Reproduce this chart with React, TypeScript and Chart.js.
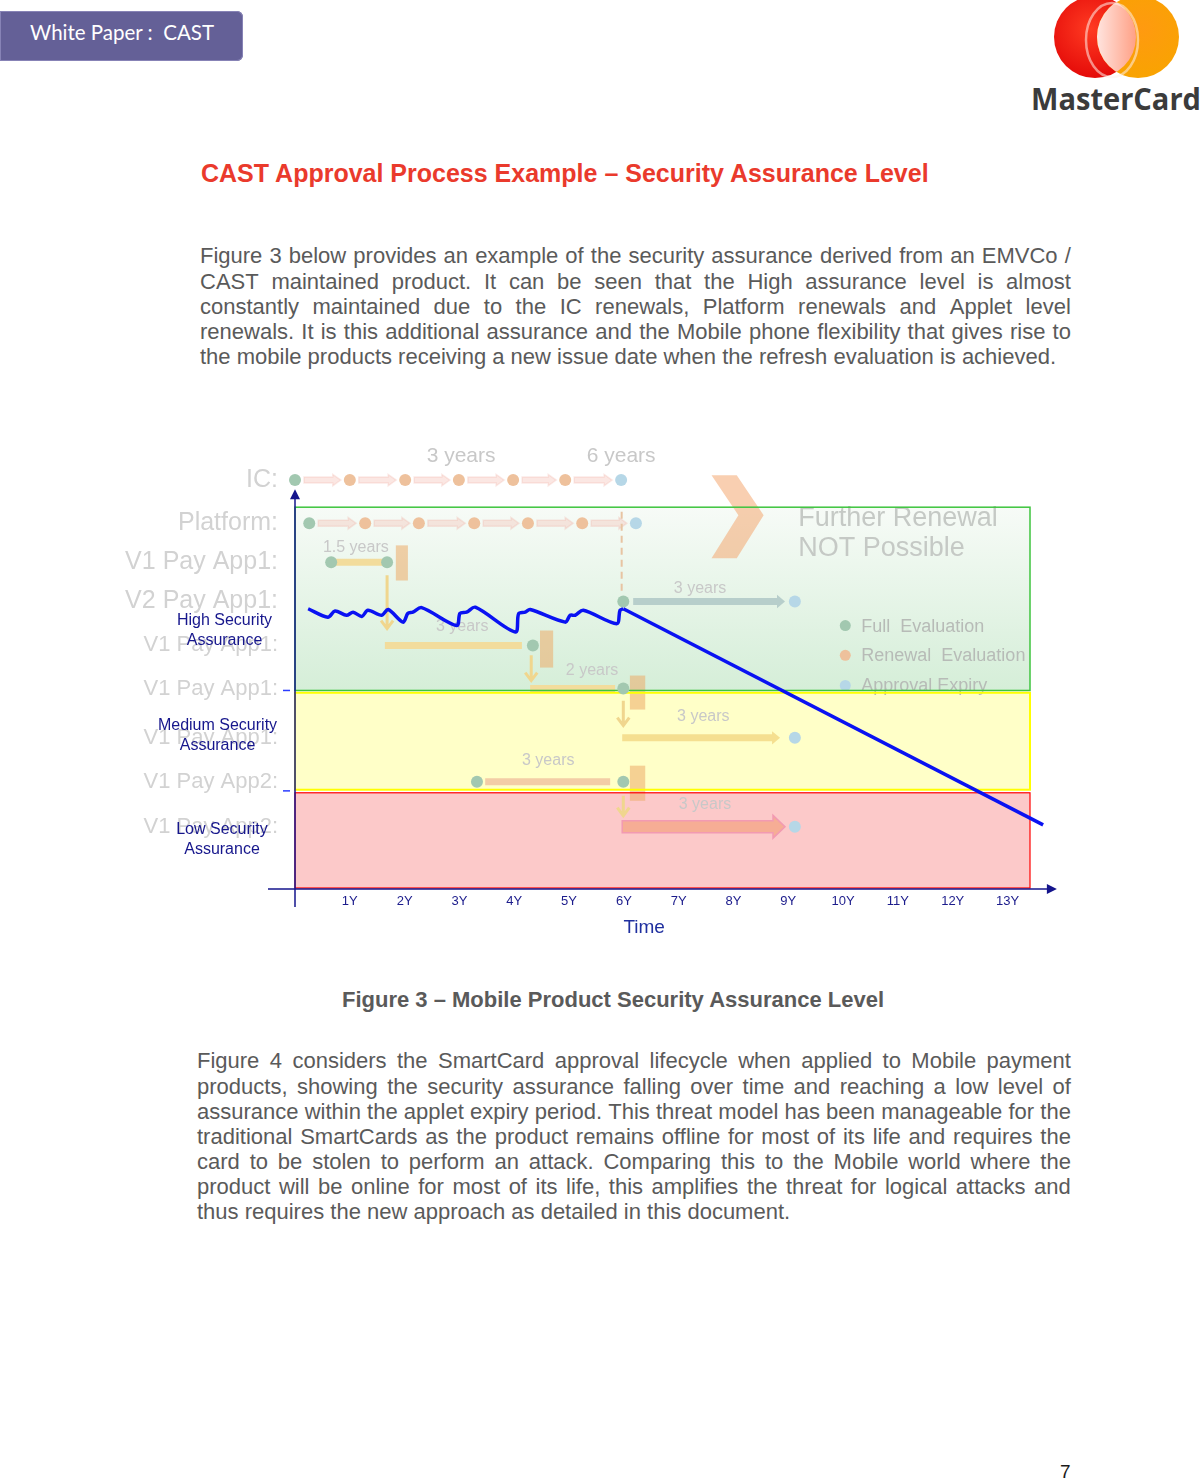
import React, { useEffect, useRef } from "react";
import { Chart, registerables } from "chart.js";

Chart.register(...registerables);

const FONT = '"Liberation Sans", Arial, Helvetica, sans-serif';

// ---------------- chart data ----------------
const yearTicks = [1, 2, 3, 4, 5, 6, 7, 8, 9, 10, 11, 12, 13];
const xMax = 13.41;
const yMax = 117.6;
const xArrowTip = 13.9;
const yArrowTip = 104.7;

const bandLabelLevels = [12.9, 40.2, 67.7];
const bandLabelText = [
  ["Low Security", "Assurance"],
  ["Medium Security", "Assurance"],
  ["High Security", "Assurance"],
];
const bandLows = [0.26, 26.0, 52.0];
const bandHighs = [25.2, 51.4, 100];
const bandEdgeTicks = [25.7, 52.0];

// security assurance curve (years, level)
const assuranceYears = [
  0.24, 0.6, 0.73, 0.94, 1.06, 1.22, 1.33, 1.58, 1.7, 1.97, 2.06, 2.15, 2.31, 2.95, 3.01, 3.13,
  3.29, 4.02, 4.08, 4.2, 4.29, 4.93, 5.02, 5.11, 5.26, 5.87, 5.93, 5.99,
];
const assuranceLevels = [
  73.4, 71.2, 72.8, 71.7, 72.5, 71.4, 73.0, 71.7, 73.2, 69.9, 72.2, 72.5, 73.7, 69.0, 72.2, 72.5,
  73.8, 67.3, 72.1, 72.5, 73.2, 69.9, 71.7, 71.7, 73.0, 69.5, 73.0, 73.4,
];
const declineYears = [5.99, 13.65];
const declineLevels = [73.4, 16.8];

// faded lifecycle diagram behind the chart
const rowNames = [
  "IC:",
  "Platform:",
  "V1 Pay App1:",
  "V2 Pay App1:",
  "V1 Pay App1:",
  "V1 Pay App1:",
  "V1 Pay App1:",
  "V1 Pay App2:",
  "V1 Pay App2:",
];
const rowLevels = [107.1, 95.8, 85.6, 75.3, 63.8, 52.5, 39.6, 28.1, 16.3];

const icYears = [0, 1.0, 2.01, 2.99, 3.98, 4.93, 5.95];
const platformYears = [0.26, 1.28, 2.26, 3.27, 4.25, 5.24, 6.22];

const fullEvalYears = [0, 0.26, 0.66, 1.68, 5.99, 4.34, 5.99, 3.32, 5.99];
const fullEvalLevels = [107.1, 95.8, 85.6, 85.6, 75.3, 63.8, 52.5, 28.1, 28.1];
const renewalYears = [1.0, 2.01, 2.99, 3.98, 4.93, 1.28, 2.26, 3.27, 4.25, 5.24];
const renewalLevels = [107.1, 107.1, 107.1, 107.1, 107.1, 95.8, 95.8, 95.8, 95.8, 95.8];
const expiryYears = [5.95, 6.22, 9.12, 9.12, 9.12];
const expiryLevels = [107.1, 95.8, 75.3, 39.6, 16.3];

const barFrom = [0.73, 6.17, 1.64, 4.29, 5.97, 3.47, 5.97];
const barTo = [1.64, 8.94, 4.14, 5.84, 8.85, 5.75, 8.94];
const barRow = [2, 3, 4, 5, 6, 7, 8];

const blockFrom = [1.84, 4.47, 6.11, 6.11];
const blockTo = [2.06, 4.71, 6.39, 6.39];
const blockLow = [80.8, 58.0, 47.0, 23.1];
const blockHigh = [90.0, 67.7, 55.9, 32.3];

const dropYears = [1.68, 4.31, 5.99, 5.99];
const dropFrom = [82.2, 61.2, 49.3, 24.4];
const dropTo = [68.2, 54.6, 42.8, 19.2];

const dashYear = 5.96;
const dashFrom = 98.8;
const dashTo = 76.9;

const chevronYears = [7.6, 8.06, 8.55, 8.06, 7.6, 8.09];
const chevronLevels = [108.4, 108.4, 97.9, 86.6, 86.6, 97.9];

const durationText = ["3 years", "6 years", "1.5 years", "3 years", "3 years", "2 years", "3 years", "3 years", "3 years"];
const durationYears = [3.03, 5.95, 1.11, 7.39, 3.05, 5.42, 7.45, 4.62, 7.48];
const durationLevels = [113.4, 113.4, 89.5, 78.7, 68.8, 57.2, 45.1, 33.6, 22.0];

const noteLines = ["Further Renewal", "NOT Possible"];
const noteYear = 9.18;
const noteLevels = [97.1, 89.2];

const legendNames = ["Full  Evaluation", "Renewal  Evaluation", "Approval Expiry"];
const legendYear = 10.04;
const legendLevels = [69.0, 61.2, 53.3];

const timeTitleYear = 6.37;

// ---------------- styles ----------------
const dotColors = ["#a2c8b0", "#eec19c", "#b6d7e7"];
const barColors = ["#f2dc9c", "#b7cecb", "#f2dc9c", "#f2dc9c", "#f5df90", "#f3cda6", "#f6ad95"];
const barHeads = [false, true, false, false, true, false, true];
const bandFills = ["#fcc9c9", "#ffffc8", null];
const bandBorders = ["#ff0000", "#ffff00", "#3ec43e"];
const bandBorderWidths = [1.2, 2, 1.5];
const bandLabelOffsets = [-73, -77.5, -70.5];

const para1 = [
  "Figure 3 below provides an example of the security assurance derived from an EMVCo /",
  "CAST maintained product. It can be seen that the High assurance level is almost",
  "constantly maintained due to the IC renewals, Platform renewals and Applet level",
  "renewals. It is this additional assurance and the Mobile phone flexibility that gives rise to",
  "the mobile products receiving a new issue date when the refresh evaluation is achieved.",
];
const para2 = [
  "Figure 4 considers the SmartCard approval lifecycle when applied to Mobile payment",
  "products, showing the security assurance falling over time and reaching a low level of",
  "assurance within the applet expiry period. This threat model has been manageable for the",
  "traditional SmartCards as the product remains offline for most of its life and requires the",
  "card to be stolen to perform an attack. Comparing this to the Mobile world where the",
  "product will be online for most of its life, this amplifies the threat for logical attacks and",
  "thus requires the new approach as detailed in this document.",
];

function arrowBar(ctx: CanvasRenderingContext2D, x1: number, x2: number, y: number, h: number, fill: string, head: boolean, stroke?: string) {
  const hw = head ? Math.max(8, h) : 0;
  ctx.beginPath();
  ctx.moveTo(x1, y - h / 2);
  ctx.lineTo(x2 - hw, y - h / 2);
  if (head) {
    ctx.lineTo(x2 - hw, y - h / 2 - h * 0.45);
    ctx.lineTo(x2, y);
    ctx.lineTo(x2 - hw, y + h / 2 + h * 0.45);
    ctx.lineTo(x2 - hw, y + h / 2);
  } else {
    ctx.lineTo(x2, y - h / 2);
    ctx.lineTo(x2, y + h / 2);
  }
  ctx.lineTo(x1, y + h / 2);
  ctx.closePath();
  ctx.fillStyle = fill;
  ctx.fill();
  if (stroke) {
    ctx.strokeStyle = stroke;
    ctx.lineWidth = 1.5;
    ctx.stroke();
  }
}

const diagramPlugin = {
  id: "diagram",
  beforeDraw(chart: any) {
    const ctx: CanvasRenderingContext2D = chart.ctx;
    const xs = chart.scales.x;
    const ys = chart.scales.y;
    const X = (v: number) => xs.getPixelForValue(v);
    const Y = (v: number) => ys.getPixelForValue(v);
    ctx.save();
    const left = X(0);
    const right = X(xMax);

    // bands
    bandLows.forEach((lo, i) => {
      const top = Y(bandHighs[i]);
      const bot = Y(lo);
      if (bandFills[i]) {
        ctx.fillStyle = bandFills[i] as string;
      } else {
        const g = ctx.createLinearGradient(0, top, 0, bot);
        g.addColorStop(0, "#f7fbf7");
        g.addColorStop(1, "#d5eed8");
        ctx.fillStyle = g;
      }
      ctx.fillRect(left, top, right - left, bot - top);
    });

    // row labels
    ctx.textAlign = "right";
    ctx.textBaseline = "middle";
    ctx.fillStyle = "#d2d2d2";
    rowNames.forEach((name, i) => {
      ctx.font = `${i < 4 ? 25 : 22}px ${FONT}`;
      ctx.fillText(name, left - 17, Y(rowLevels[i]));
    });

    // connector arrows between IC / platform dots
    const connect = (ys2: number[], lvl: number) => {
      for (let i = 0; i < ys2.length - 1; i++) {
        arrowBar(ctx, X(ys2[i]) + 9, X(ys2[i + 1]) - 9, Y(lvl), 6, "rgba(244,186,176,0.35)", true, "rgba(240,170,160,0.25)");
      }
    };
    connect(icYears, rowLevels[0]);
    connect(platformYears, rowLevels[1]);

    // dashed vertical line
    ctx.save();
    ctx.setLineDash([7, 5]);
    ctx.strokeStyle = "#e8c4a2";
    ctx.lineWidth = 2;
    ctx.beginPath();
    ctx.moveTo(X(dashYear), Y(dashFrom));
    ctx.lineTo(X(dashYear), Y(dashTo));
    ctx.stroke();
    ctx.restore();

    // bars
    barFrom.forEach((b, i) => {
      const big = i === 6;
      arrowBar(ctx, X(b), X(barTo[i]), Y(rowLevels[barRow[i]]), big ? 12 : 7, barColors[i], barHeads[i], big ? "#f29ab2" : undefined);
    });

    // renewal blocks
    ctx.fillStyle = "rgba(236,172,104,0.55)";
    blockFrom.forEach((b, i) => {
      ctx.fillRect(X(b), Y(blockHigh[i]), X(blockTo[i]) - X(b), Y(blockLow[i]) - Y(blockHigh[i]));
    });

    // drop arrows
    ctx.strokeStyle = "#f0d68e";
    ctx.lineWidth = 3;
    dropYears.forEach((d, i) => {
      const x = X(d);
      const y1 = Y(dropFrom[i]);
      const y2 = Y(dropTo[i]);
      ctx.beginPath();
      ctx.moveTo(x, y1);
      ctx.lineTo(x, y2);
      ctx.moveTo(x - 6, y2 - 8);
      ctx.lineTo(x, y2);
      ctx.lineTo(x + 6, y2 - 8);
      ctx.stroke();
    });

    // chevron
    ctx.beginPath();
    chevronYears.forEach((c, i) => {
      const px = X(c);
      const py = Y(chevronLevels[i]);
      if (i === 0) ctx.moveTo(px, py);
      else ctx.lineTo(px, py);
    });
    ctx.closePath();
    ctx.fillStyle = "rgba(244,160,100,0.5)";
    ctx.fill();

    // duration labels
    ctx.textAlign = "center";
    ctx.fillStyle = "#c8c8c8";
    durationText.forEach((t, i) => {
      ctx.font = `${i < 2 ? 21 : 16}px ${FONT}`;
      ctx.fillText(t, X(durationYears[i]), Y(durationLevels[i]));
    });

    // further renewal note
    ctx.textAlign = "left";
    ctx.fillStyle = "#c5c9c5";
    ctx.font = `27px ${FONT}`;
    noteLines.forEach((t, i) => ctx.fillText(t, X(noteYear), Y(noteLevels[i])));

    // legend
    ctx.font = `18px ${FONT}`;
    legendNames.forEach((t, i) => {
      const cy = Y(legendLevels[i]);
      ctx.beginPath();
      ctx.arc(X(legendYear), cy, 5.5, 0, Math.PI * 2);
      ctx.fillStyle = dotColors[i];
      ctx.fill();
      ctx.fillStyle = "#b7bbb7";
      ctx.fillText(t, X(legendYear) + 16, cy + 1);
    });

    // band borders
    bandLows.forEach((lo, i) => {
      const top = Y(bandHighs[i]);
      const bot = Y(lo);
      ctx.strokeStyle = bandBorders[i];
      ctx.lineWidth = bandBorderWidths[i];
      ctx.strokeRect(left, top, right - left, bot - top);
    });
    ctx.restore();
  },
  afterDraw(chart: any) {
    const ctx: CanvasRenderingContext2D = chart.ctx;
    const xs = chart.scales.x;
    const ys = chart.scales.y;
    const X = (v: number) => xs.getPixelForValue(v);
    const Y = (v: number) => ys.getPixelForValue(v);
    const ax = X(0);
    const ay = Y(0);
    ctx.save();

    // band labels (security assurance levels)
    ctx.font = `16px ${FONT}`;
    ctx.fillStyle = "#16168c";
    ctx.textAlign = "center";
    ctx.textBaseline = "middle";
    bandLabelLevels.forEach((lv, i) => {
      const cy = Y(lv);
      const lines = bandLabelText[i];
      lines.forEach((t, j) => {
        ctx.fillText(t, ax + bandLabelOffsets[i], cy + (j - (lines.length - 1) / 2) * 19.5);
      });
    });

    ctx.strokeStyle = "#14148c";
    ctx.fillStyle = "#14148c";
    ctx.lineWidth = 1.5;
    // y axis
    const yTip = Y(yArrowTip);
    ctx.beginPath();
    ctx.moveTo(ax, ay + 18);
    ctx.lineTo(ax, yTip + 8);
    ctx.stroke();
    ctx.beginPath();
    ctx.moveTo(ax, yTip);
    ctx.lineTo(ax - 5, yTip + 10);
    ctx.lineTo(ax + 5, yTip + 10);
    ctx.closePath();
    ctx.fill();
    // x axis
    const xTip = X(xArrowTip);
    ctx.beginPath();
    ctx.moveTo(ax - 27, ay);
    ctx.lineTo(xTip - 8, ay);
    ctx.stroke();
    ctx.beginPath();
    ctx.moveTo(xTip, ay);
    ctx.lineTo(xTip - 10, ay - 5);
    ctx.lineTo(xTip - 10, ay + 5);
    ctx.closePath();
    ctx.fill();
    // band edge tick dashes
    ctx.strokeStyle = "#2a3cff";
    bandEdgeTicks.forEach((v) => {
      ctx.beginPath();
      ctx.moveTo(ax - 12, Y(v));
      ctx.lineTo(ax - 5, Y(v));
      ctx.stroke();
    });
    // axis title
    ctx.font = `19px ${FONT}`;
    ctx.fillStyle = "#1f2f9f";
    ctx.textAlign = "center";
    ctx.textBaseline = "middle";
    ctx.fillText("Time", X(timeTitleYear), ay + 39);
    ctx.restore();
  },
};

function AssuranceChart() {
  const ref = useRef<HTMLCanvasElement | null>(null);
  useEffect(() => {
    if (!ref.current) return;
    const pts = (xs: number[], ys: number[]) => xs.map((x, i) => ({ x, y: ys[i] }));
    const chart = new Chart(ref.current, {
      type: "scatter",
      data: {
        datasets: [
          {
            type: "line",
            label: "Security assurance",
            data: pts(assuranceYears, assuranceLevels),
            borderColor: "#0a12f2",
            borderWidth: 3.5,
            tension: 0.3,
            pointRadius: 0,
            fill: false,
            clip: false,
            order: 0,
          } as any,
          {
            type: "line",
            label: "Assurance decline",
            data: pts(declineYears, declineLevels),
            borderColor: "#0a12f2",
            borderWidth: 3.5,
            tension: 0,
            pointRadius: 0,
            fill: false,
            clip: false,
            order: 1,
          } as any,
          {
            label: "Full Evaluation",
            data: pts(fullEvalYears, fullEvalLevels),
            pointRadius: 6,
            pointBackgroundColor: dotColors[0],
            pointBorderWidth: 0,
            clip: false,
            order: 2,
          } as any,
          {
            label: "Renewal Evaluation",
            data: pts(renewalYears, renewalLevels),
            pointRadius: 6,
            pointBackgroundColor: dotColors[1],
            pointBorderWidth: 0,
            clip: false,
            order: 3,
          } as any,
          {
            label: "Approval Expiry",
            data: pts(expiryYears, expiryLevels),
            pointRadius: 6,
            pointBackgroundColor: dotColors[2],
            pointBorderWidth: 0,
            clip: false,
            order: 4,
          } as any,
        ],
      },
      options: {
        responsive: false,
        animation: false,
        devicePixelRatio: 1,
        layout: { padding: { left: 195, right: 50, top: 10, bottom: 35.4 } },
        plugins: { legend: { display: false }, tooltip: { enabled: false } },
        scales: {
          x: {
            type: "linear",
            min: 0,
            max: xMax,
            afterBuildTicks: (axis: any) => {
              axis.ticks = yearTicks.map((v) => ({ value: v }));
            },
            ticks: {
              callback: (v: any) => `${v}Y`,
              color: "#1c1c8c",
              font: { family: FONT, size: 13 },
              padding: 5,
              maxRotation: 0,
              autoSkip: false,
            },
            grid: { display: false, drawTicks: false, tickLength: 0 },
            border: { display: false },
          },
          y: {
            type: "linear",
            min: 0,
            max: yMax,
            display: false,
          },
        },
      } as any,
      plugins: [diagramPlugin],
    });
    return () => chart.destroy();
  }, []);
  return (
    <canvas
      ref={ref}
      width={980}
      height={520}
      style={{ position: "absolute", left: 100, top: 430, width: 980, height: 520, display: "block" }}
    />
  );
}

function JustifiedLines({ lines, left, top, width, lineHeight }: { lines: string[]; left: number; top: number; width: number; lineHeight: number }) {
  return (
    <div style={{ position: "absolute", left, top, width, fontFamily: FONT, fontSize: 22, color: "#5a5a5a" }}>
      {lines.map((ln, i) =>
        i === lines.length - 1 ? (
          <div key={i} style={{ height: lineHeight, lineHeight: `${lineHeight}px`, whiteSpace: "nowrap" }}>
            {ln}
          </div>
        ) : (
          <div key={i} style={{ height: lineHeight, lineHeight: `${lineHeight}px`, display: "flex", justifyContent: "space-between", whiteSpace: "nowrap" }}>
            {ln.split(" ").map((w, j, arr) => (
              <span key={j}>{j < arr.length - 1 ? w + " " : w}</span>
            ))}
          </div>
        )
      )}
    </div>
  );
}

export default function App() {
  return (
    <div style={{ position: "absolute", left: 0, top: 0, width: 1200, height: 1481, overflow: "hidden", background: "#ffffff" }}>
      {/* header badge */}
      <div
        style={{
          position: "absolute",
          left: 0,
          top: 11,
          width: 243,
          height: 50,
          background: "#646097",
          borderRadius: "0 6px 6px 0",
          boxShadow: "inset 0 0 0 1px #8783b6",
          boxSizing: "border-box",
        }}
      >
        <span style={{ position: "absolute", left: 30, top: 0, lineHeight: "43px", fontFamily: "Lato, 'Open Sans', sans-serif", fontSize: 20.5, color: "#ffffff", whiteSpace: "pre" }}>
          {"White Paper :  CAST"}
        </span>
      </div>

      {/* logo */}
      <svg style={{ position: "absolute", left: 1000, top: 0 }} width={200} height={120}>
        <defs>
          <radialGradient id="mcRed" cx="0.45" cy="0.4" r="0.65">
            <stop offset="0" stopColor="#ff3b22" />
            <stop offset="1" stopColor="#e20707" />
          </radialGradient>
          <radialGradient id="mcOrange" cx="0.55" cy="0.4" r="0.65">
            <stop offset="0" stopColor="#ff9a10" />
            <stop offset="1" stopColor="#f8a400" />
          </radialGradient>
          <linearGradient id="mcOver" x1="0" x2="1" y1="0" y2="0">
            <stop offset="0" stopColor="#ffe4df" />
            <stop offset="0.45" stopColor="#ffa48a" />
            <stop offset="1" stopColor="#ff4a1e" />
          </linearGradient>
          <clipPath id="mcClip">
            <circle cx="95" cy="37" r="41" />
          </clipPath>
        </defs>
        <circle cx="95" cy="37" r="41" fill="url(#mcRed)" />
        <circle cx="138" cy="37" r="41" fill="url(#mcOrange)" />
        <circle cx="138" cy="37" r="41" fill="url(#mcOver)" clipPath="url(#mcClip)" />
        <ellipse cx="112" cy="40" rx="26" ry="37" fill="none" stroke="rgba(255,240,235,0.55)" strokeWidth="2.5" />
        <text x="31" y="110" fontFamily="'Open Sans', 'Liberation Sans', sans-serif" fontWeight="700" fontSize="30" fill="#3b3b3b" textLength="170" lengthAdjust="spacingAndGlyphs">
          MasterCard
        </text>
      </svg>

      {/* section title */}
      <div style={{ position: "absolute", left: 201, top: 158, lineHeight: "30px", fontFamily: FONT, fontWeight: 700, fontSize: 25, color: "#ea3a2c", whiteSpace: "nowrap" }}>
        CAST Approval Process Example – Security Assurance Level
      </div>

      <JustifiedLines lines={para1} left={200} top={243.4} width={871} lineHeight={25.2} />

      <AssuranceChart />

      <div style={{ position: "absolute", left: 342, top: 987, lineHeight: "26px", fontFamily: FONT, fontWeight: 700, fontSize: 22, color: "#5a5a5a", whiteSpace: "nowrap" }}>
        Figure 3 – Mobile Product Security Assurance Level
      </div>

      <JustifiedLines lines={para2} left={197} top={1048.4} width={874} lineHeight={25.17} />

      <div style={{ position: "absolute", left: 1060, top: 1461, lineHeight: "22px", fontFamily: FONT, fontSize: 19, color: "#1a1a1a" }}>7</div>
    </div>
  );
}
